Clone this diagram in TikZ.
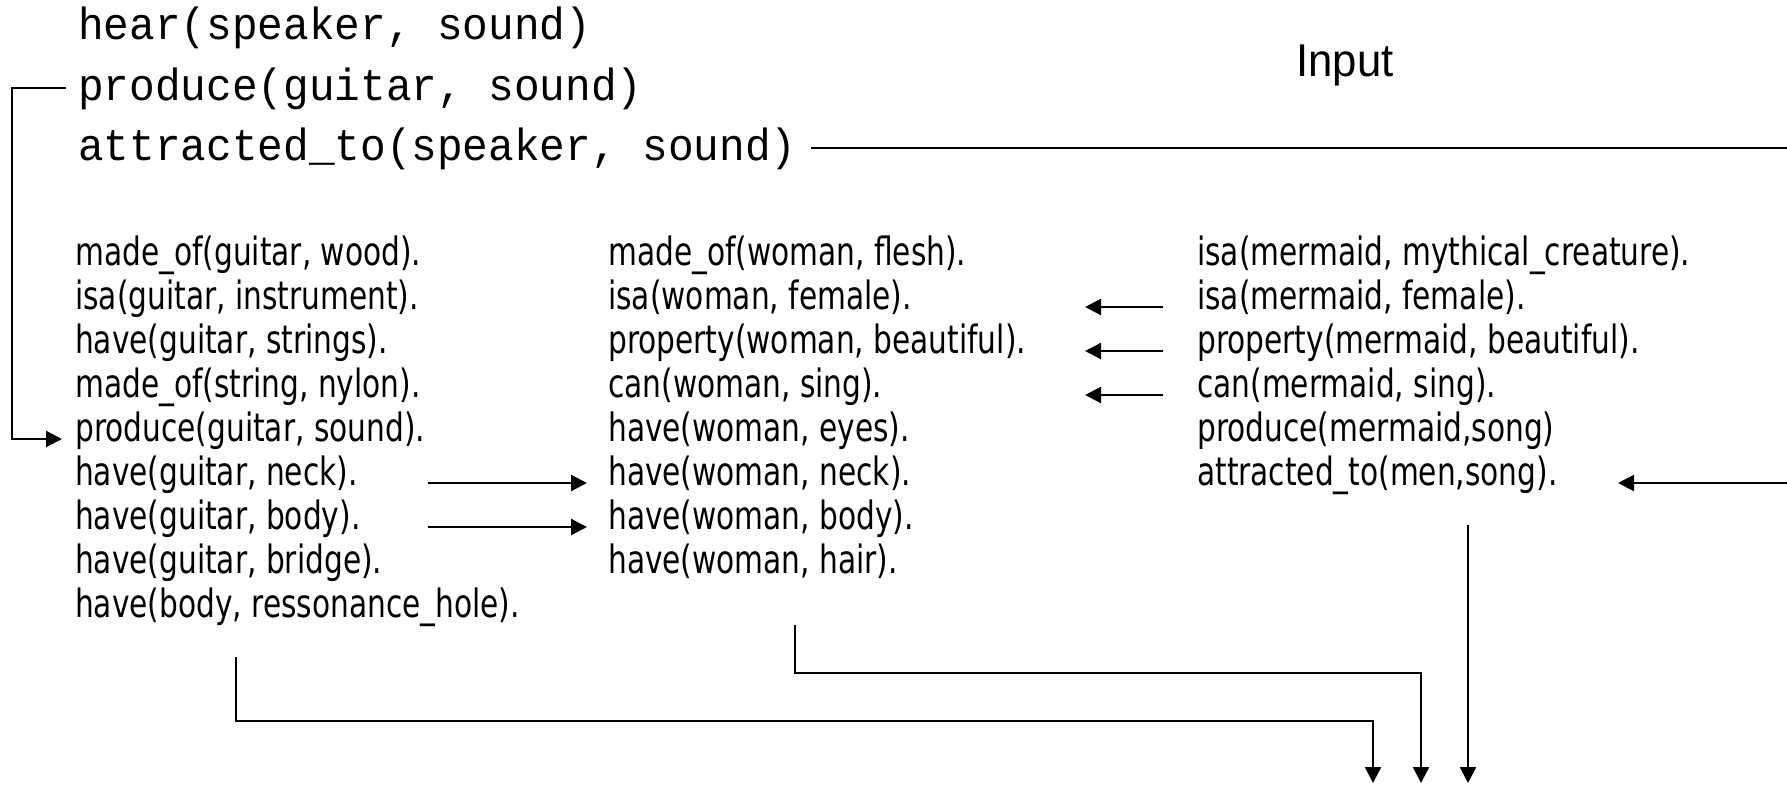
\documentclass[tikz,border=0pt]{standalone}
\usepackage{fontspec}
\usetikzlibrary{arrows.meta,positioning}
\newfontfamily\querymono[FakeStretch=0.95]{Liberation Mono}
\newfontfamily\factsans[FakeStretch=0.76]{DejaVu Sans}
\newfontfamily\labelsans[FakeStretch=0.95]{Liberation Sans}

\begin{document}
\begin{tikzpicture}[x=1pt, y=-1pt, >={Triangle[length=16pt, width=16pt]}]
    \tikzstyle{query} = [anchor=base west, inner sep=0pt, font=\querymono\fontsize{45}{50}\selectfont]
    \tikzstyle{fact} = [anchor=mid west, inner sep=0pt, font=\factsans\fontsize{39}{44}\selectfont]
    \tikzstyle{line} = [draw, ->, line width=2.2pt]

    \path [use as bounding box, fill=white] (0,0) rectangle (1787,784);

    % query on top
    \node [query] (qh) at (78,40) {hear(speaker, sound)};
    \node [query] (qp) at (78,100) {produce(guitar, sound)};
    \node [query] (qa) at (78,160) {attracted\_to(speaker, sound)};
    \node [font=\labelsans\fontsize{46}{50}\selectfont] (input) at (1345,65) {Input};

    % guitar
    \node [fact] (g1) at (75,263) {made\_of(guitar, wood).};
    \node [fact] (g2) at (75,307) {isa(guitar, instrument).};
    \node [fact] (g3) at (75,351) {have(guitar, strings).};
    \node [fact] (g4) at (75,395) {made\_of(string, nylon).};
    \node [fact] (g5) at (75,439) {produce(guitar, sound).};
    \node [fact] (g6) at (75,483) {have(guitar, neck).};
    \node [fact] (g7) at (75,527) {have(guitar, body).};
    \node [fact] (g8) at (75,571) {have(guitar, bridge).};
    \node [fact] (g9) at (75,615) {have(body, ressonance\_hole).};

    % woman
    \node [fact] (w1) at (608,263) {made\_of(woman, flesh).};
    \node [fact] (w2) at (608,307) {isa(woman, female).};
    \node [fact] (w3) at (608,351) {property(woman, beautiful).};
    \node [fact] (w4) at (608,395) {can(woman, sing).};
    \node [fact] (w5) at (608,439) {have(woman, eyes).};
    \node [fact] (w6) at (608,483) {have(woman, neck).};
    \node [fact] (w7) at (608,527) {have(woman, body).};
    \node [fact] (w8) at (608,571) {have(woman, hair).};

    % mermaid
    \node [fact] (m1) at (1197,263) {isa(mermaid, mythical\_creature).};
    \node [fact] (m2) at (1197,307) {isa(mermaid, female).};
    \node [fact] (m3) at (1197,351) {property(mermaid, beautiful).};
    \node [fact] (m4) at (1197,395) {can(mermaid, sing).};
    \node [fact] (m5) at (1197,439) {produce(mermaid,song)};
    \node [fact] (m6) at (1197,483) {attracted\_to(men,song).};

    % columns the arrows start and stop at
    \coordinate (brk) at (12,0);
    \coordinate (btip) at (62,0);
    \coordinate (gtail) at (428,0);
    \coordinate (mtail) at (1163,0);
    \coordinate (wtip) at (1085,0);
    \coordinate (rim) at (1800,0);
    \coordinate (mtip) at (1618,0);
    \coordinate (s1) at (236,657);
    \coordinate (s2) at (795,625);
    \coordinate (s3) at (1468,525);
    \coordinate (e1) at (1373,783);
    \coordinate (e2) at (1421,783);
    \coordinate (e3) at (1468,783);

    \path [line, shorten <=12pt] (qp.west) -- (qp.west -| brk) |- (g5.mid -| btip);
    \path [line, shorten <=14pt] (qa.east) -- (qa.east -| rim) |- (m6.mid -| mtip);

    \path [line, shorten >=21pt] (g6.mid -| gtail) -- (w6.mid west);
    \path [line, shorten >=21pt] (g7.mid -| gtail) -- (w7.mid west);

    \path [line] (m2.mid -| mtail) -- (w2.mid -| wtip);
    \path [line] (m3.mid -| mtail) -- (w3.mid -| wtip);
    \path [line] (m4.mid -| mtail) -- (w4.mid -| wtip);

    \path [line] (s1) -- ++(0,64) -| (e1);
    \path [line] (s2) -- ++(0,48) -| (e2);
    \path [line] (s3) -- (e3);
\end{tikzpicture}
\end{document}
